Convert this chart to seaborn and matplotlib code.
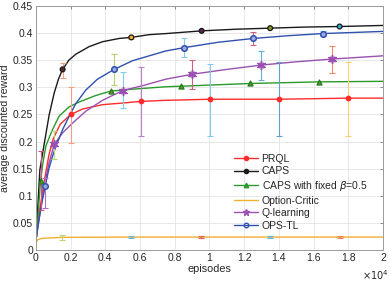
import numpy as np
import pandas as pd
import matplotlib
matplotlib.use("Agg")
import matplotlib.pyplot as plt
import seaborn as sns
from matplotlib.lines import Line2D
from matplotlib.ticker import FuncFormatter, MultipleLocator

# ----------------------------------------------------
# data (x in units of 1e4 episodes)
# ----------------------------------------------------
prql_x = [0, 0.005, 0.02, 0.05, 0.075, 0.1, 0.14, 0.202, 0.269, 0.384, 0.5, 0.605, 0.749, 1.003, 1.40, 1.80, 2.0]
prql_y = [0.02, 0.03, 0.07, 0.13, 0.175, 0.205, 0.232, 0.25, 0.26, 0.268, 0.271, 0.274, 0.276, 0.278, 0.278, 0.280, 0.280]
prql_mk = [7, 11, 13, 14, 15]

caps_x = [0, 0.004, 0.01, 0.023, 0.045, 0.077, 0.106, 0.13, 0.154, 0.19, 0.23, 0.307, 0.384, 0.48, 0.55,
          0.653, 0.749, 0.955, 1.15, 1.35, 1.55, 1.75, 2.0]
caps_y = [0.02, 0.025, 0.074, 0.148, 0.19, 0.25, 0.29, 0.315, 0.333, 0.350, 0.361, 0.375, 0.384, 0.39, 0.392,
          0.397, 0.399, 0.404, 0.407, 0.409, 0.411, 0.412, 0.414]
caps_mk = [8, 14, 17, 19, 21]

fixed_x = [0, 0.001, 0.004, 0.015, 0.027, 0.04, 0.058, 0.08, 0.096, 0.134, 0.192, 0.25, 0.346, 0.432, 0.576,
           0.749, 0.836, 1.233, 1.633, 2.0]
fixed_y = [0.02, 0.09, 0.025, 0.075, 0.128, 0.16, 0.192, 0.21, 0.222, 0.247, 0.264, 0.273, 0.285, 0.293, 0.297,
           0.301, 0.302, 0.307, 0.310, 0.311]
fixed_mk = [4, 13, 16, 17, 18]

oc_x = [0, 0.003, 0.01, 0.033, 0.15, 0.55, 0.95, 1.35, 1.75, 2.0]
oc_y = [0.0, 0.015, 0.019, 0.0216, 0.0235, 0.024, 0.024, 0.024, 0.024, 0.024]

ql_x = [0, 0.01, 0.03, 0.05, 0.075, 0.106, 0.154, 0.211, 0.288, 0.384, 0.5, 0.615, 0.749, 0.90, 1.10, 1.30,
        1.50, 1.704, 2.0]
ql_y = [0.02, 0.04, 0.08, 0.12, 0.16, 0.195, 0.216, 0.234, 0.256, 0.276, 0.294, 0.303, 0.315, 0.324, 0.333, 0.341,
        0.347, 0.352, 0.358]
ql_mk = [5, 10, 13, 15, 17]

ops_x = [0, 0.01, 0.03, 0.054, 0.075, 0.096, 0.115, 0.154, 0.192, 0.23, 0.288, 0.355, 0.451, 0.557, 0.653,
         0.749, 0.853, 1.05, 1.253, 1.45, 1.652, 2.0]
ops_y = [0.02, 0.04, 0.08, 0.118, 0.15, 0.173, 0.191, 0.222, 0.247, 0.27, 0.295, 0.315, 0.333, 0.349, 0.358,
         0.367, 0.373, 0.383, 0.39, 0.395, 0.399, 0.403]
ops_mk = [3, 12, 16, 18, 20]

# error bars: x, centre, half-width, colour
err_x = [0.154, 0.202, 0.027, 0.106, 0.054, 0.451, 0.5, 0.605, 0.853, 0.90, 1.003, 1.253, 1.30, 1.40,
         1.652, 1.704, 1.80, 0.55, 0.15, 0.55, 0.95, 1.35, 1.75]
err_y = [0.3315, 0.2485, 0.128, 0.194, 0.105, 0.333, 0.295, 0.274, 0.3725, 0.323, 0.277, 0.3895, 0.340, 0.2785,
         0.3985, 0.3515, 0.279, 0.392, 0.0235, 0.024, 0.024, 0.024, 0.024]
err_e = [0.0135, 0.052, 0.054, 0.026, 0.028, 0.028, 0.034, 0.063, 0.0175, 0.027, 0.066, 0.0115, 0.027, 0.0675,
         0.0045, 0.0245, 0.068, 0.003, 0.004, 0.002, 0.002, 0.002, 0.002]
err_c = ['#f0a080', '#f0a080', '#d0508a', '#b8d878', '#b070c0', '#b8d070', '#80ccf0', '#c080d0', '#80ccf0',
         '#d06080', '#80ccf0', '#d06080', '#60b0e0', '#60a0d0', '#60b8e8', '#f08c6c', '#f8d070', '#f0b030',
         '#b8d878', '#60b8e0', '#e06050', '#60b8e0', '#f08050']

caps_face = ['#5a2a2a', '#f0b030', '#5a205a', '#7a9a20', '#30b0d0']

labels = ['PRQL', 'CAPS', r'CAPS with fixed $\beta$=0.5', 'Option-Critic', 'Q-learning', 'OPS-TL']
colors = ['#ff2a2a', '#1a1a1a', '#2a9a2a', '#eeb030', '#9a50b0', '#3050b0']

# ----------------------------------------------------
# plot
# ----------------------------------------------------
sns.set_style("white")
plt.rcParams['font.family'] = ['Liberation Sans', 'DejaVu Sans']

fig = plt.figure(figsize=(3.9, 2.81), dpi=100)
ax = fig.add_axes([0.092, 0.110, 0.890, 0.869])

series = [(prql_x, prql_y), (caps_x, caps_y), (fixed_x, fixed_y), (oc_x, oc_y), (ql_x, ql_y), (ops_x, ops_y)]
for (sx, sy), lab, col in zip(series, labels, colors):
    df = pd.DataFrame({'ep': np.array(sx) * 1e4, 'r': sy})
    sns.lineplot(data=df, x='ep', y='r', color=col, lw=1.0, ax=ax, sort=False)

for i in range(len(err_x)):
    ax.errorbar(err_x[i] * 1e4, err_y[i], yerr=err_e[i], fmt='none', ecolor=err_c[i],
                elinewidth=0.8, capsize=2.5, capthick=0.8, zorder=3)

# markers
def pts(sx, sy, idx):
    return pd.DataFrame({'ep': [sx[i] * 1e4 for i in idx], 'r': [sy[i] for i in idx]})

d = pts(prql_x, prql_y, prql_mk)
ax.scatter(d.ep, d.r, s=10, marker='o', color=colors[0], zorder=4)
d = pts(caps_x, caps_y, caps_mk)
ax.scatter(d.ep, d.r, s=12, marker='o', c=caps_face, edgecolors='#1a1a1a', linewidths=0.9, zorder=4)
d = pts(fixed_x, fixed_y, fixed_mk)
ax.scatter(d.ep, d.r, s=13, marker='^', c='#6a9a10', edgecolors='#1f7a2a', linewidths=0.9, zorder=4)
d = pts(ql_x, ql_y, ql_mk)
ax.scatter(d.ep, d.r, s=32, marker=(6, 2, 0), color=colors[4], linewidths=1.1, zorder=4)
ax.scatter(d.ep, d.r, s=14, marker='x', color=colors[4], linewidths=1.1, zorder=4)
d = pts(ops_x, ops_y, ops_mk)
ax.scatter(d.ep, d.r, s=16, marker='o', facecolors='#9aaae0', edgecolors=colors[5], linewidths=1.1, zorder=4)

ax.set_xlim(0, 2e4)
ax.set_ylim(0, 0.45)
ax.xaxis.set_major_locator(MultipleLocator(2000))
ax.yaxis.set_major_locator(MultipleLocator(0.05))
ax.xaxis.set_major_formatter(FuncFormatter(lambda v, p: f"{v / 1e4:g}"))
ax.yaxis.set_major_formatter(FuncFormatter(lambda v, p: f"{round(v, 2):g}"))
ax.grid(True, color='#e4e4e4', lw=0.6)
ax.set_axisbelow(True)
for s in ax.spines.values():
    s.set_color('#9a9a9a')
    s.set_linewidth(0.7)
ax.tick_params(direction='in', length=2.5, width=0.6, color='#7a7a7a', labelsize=7.5,
               labelcolor='#262626', top=True, right=True, pad=2)

ax.set_xlabel('episodes', fontsize=7.8, color='#262626', labelpad=1)
ax.set_ylabel('average discounted reward', fontsize=7.6, color='#262626', labelpad=2)
fig.text(0.928, 0.004, r'$\times10^4$', fontsize=7, color='#262626')

handles = [
    Line2D([], [], color=colors[0], lw=1.0, marker='o', ms=3),
    Line2D([], [], color=colors[1], lw=1.0, marker='o', ms=3),
    Line2D([], [], color=colors[2], lw=1.0, marker='^', ms=3.2),
    Line2D([], [], color=colors[3], lw=1.0),
    Line2D([], [], color=colors[4], lw=1.0, marker='*', ms=4.5),
    Line2D([], [], color=colors[5], lw=1.0, marker='o', ms=3.2, mfc='none'),
]
ax.legend(handles, labels, loc='center left', bbox_to_anchor=(0.56, 0.237), frameon=False,
          fontsize=7.5, handlelength=2.3, handletextpad=0.3, labelspacing=0.25, borderaxespad=0)

fig.savefig('out.png', dpi=100)
